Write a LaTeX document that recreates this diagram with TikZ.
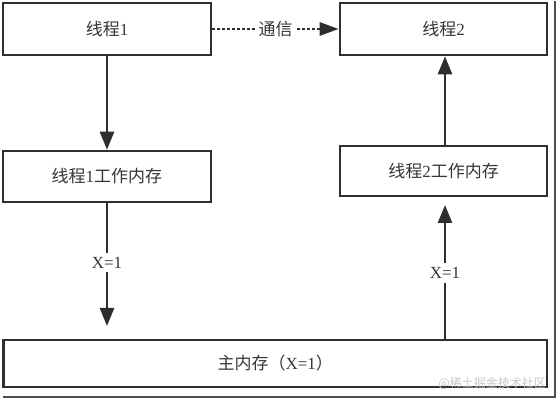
\documentclass[tikz,border=0pt]{standalone}
\usepackage{fontspec}
\setmainfont{Liberation Serif}
\newfontfamily\cjk{Noto Sans CJK SC}
\usetikzlibrary{arrows.meta}
\definecolor{ink}{HTML}{2E2E2E}
\definecolor{txt}{HTML}{363636}
\definecolor{wm}{HTML}{C8C8C8}
\tikzset{
  box/.style={draw=ink, line width=2.6pt, rectangle, inner sep=0pt, text=txt,
    font=\fontsize{17}{20}\selectfont},
  lbl/.style={inner sep=4pt, text=txt, font=\fontsize{17}{20}\selectfont},
  conn/.style={draw=ink, line width=2.6pt},
  arr/.style={conn, -{Triangle[length=18pt,width=14pt]}},
  dotarr/.style={draw=ink, line width=2.8pt, dash pattern={on 2.6pt off 2.4pt},
    -{Triangle[length=19pt,width=13pt]}}
}
\begin{document}
\begin{tikzpicture}[x=1pt,y=-1pt]
\useasboundingbox (0,0) rectangle (558,403);
\fill[white] (0,0) rectangle (558,403);
% shadow frame
\draw[draw=ink!85, line width=2pt] (3,397) -- (555,397) -- (555,1);
% boxes
\node[box, minimum width=208pt, minimum height=52pt] (t1) at (107,29) {{\cjk 线程}1};
\node[box, minimum width=207pt, minimum height=52pt] (t2) at (443.5,29) {{\cjk 线程}2};
\node[box, minimum width=208pt, minimum height=51pt] (w1) at (107,176.5) {{\cjk 线程}1{\cjk 工作内存}};
\node[box, minimum width=207pt, minimum height=50pt] (w2) at (443.5,171) {{\cjk 线程}2{\cjk 工作内存}};
\node[box, minimum width=543.5pt, minimum height=47pt] (m) at (275.3,363.5) {{\cjk 主内存（}X=1{\cjk ）}};
% labels
\node[lbl] (x1) at (107,262.5) {X=1};
\node[lbl] (x2) at (445,273.3) {X=1};
\coordinate (e1) at (107,326);
\coordinate (e2) at (445,205);
% connectors
\draw[arr] (t1.south) -- (w1.north);
\draw[arr] (w2.north -| e2) -- (t2.south -| e2);
\draw[conn] (w1.south) -- (x1.north);
\draw[arr] (x1.south) -- (e1);
\draw[conn] (m.north -| e2) -- (x2.south);
\draw[arr] (x2.north) -- (e2);
\draw[dotarr] (t1.east) -- (t2.west);
\node[fill=white, inner sep=2pt, text=txt, font=\fontsize{17}{20}\selectfont\cjk] (comm) at (275.5,29) {通信};
% watermark
\node[text=wm, inner sep=0pt, anchor=east, font=\fontsize{12}{14}\selectfont\cjk] (wmk) at (546,383) {@稀土掘金技术社区};
\end{tikzpicture}
\end{document}
